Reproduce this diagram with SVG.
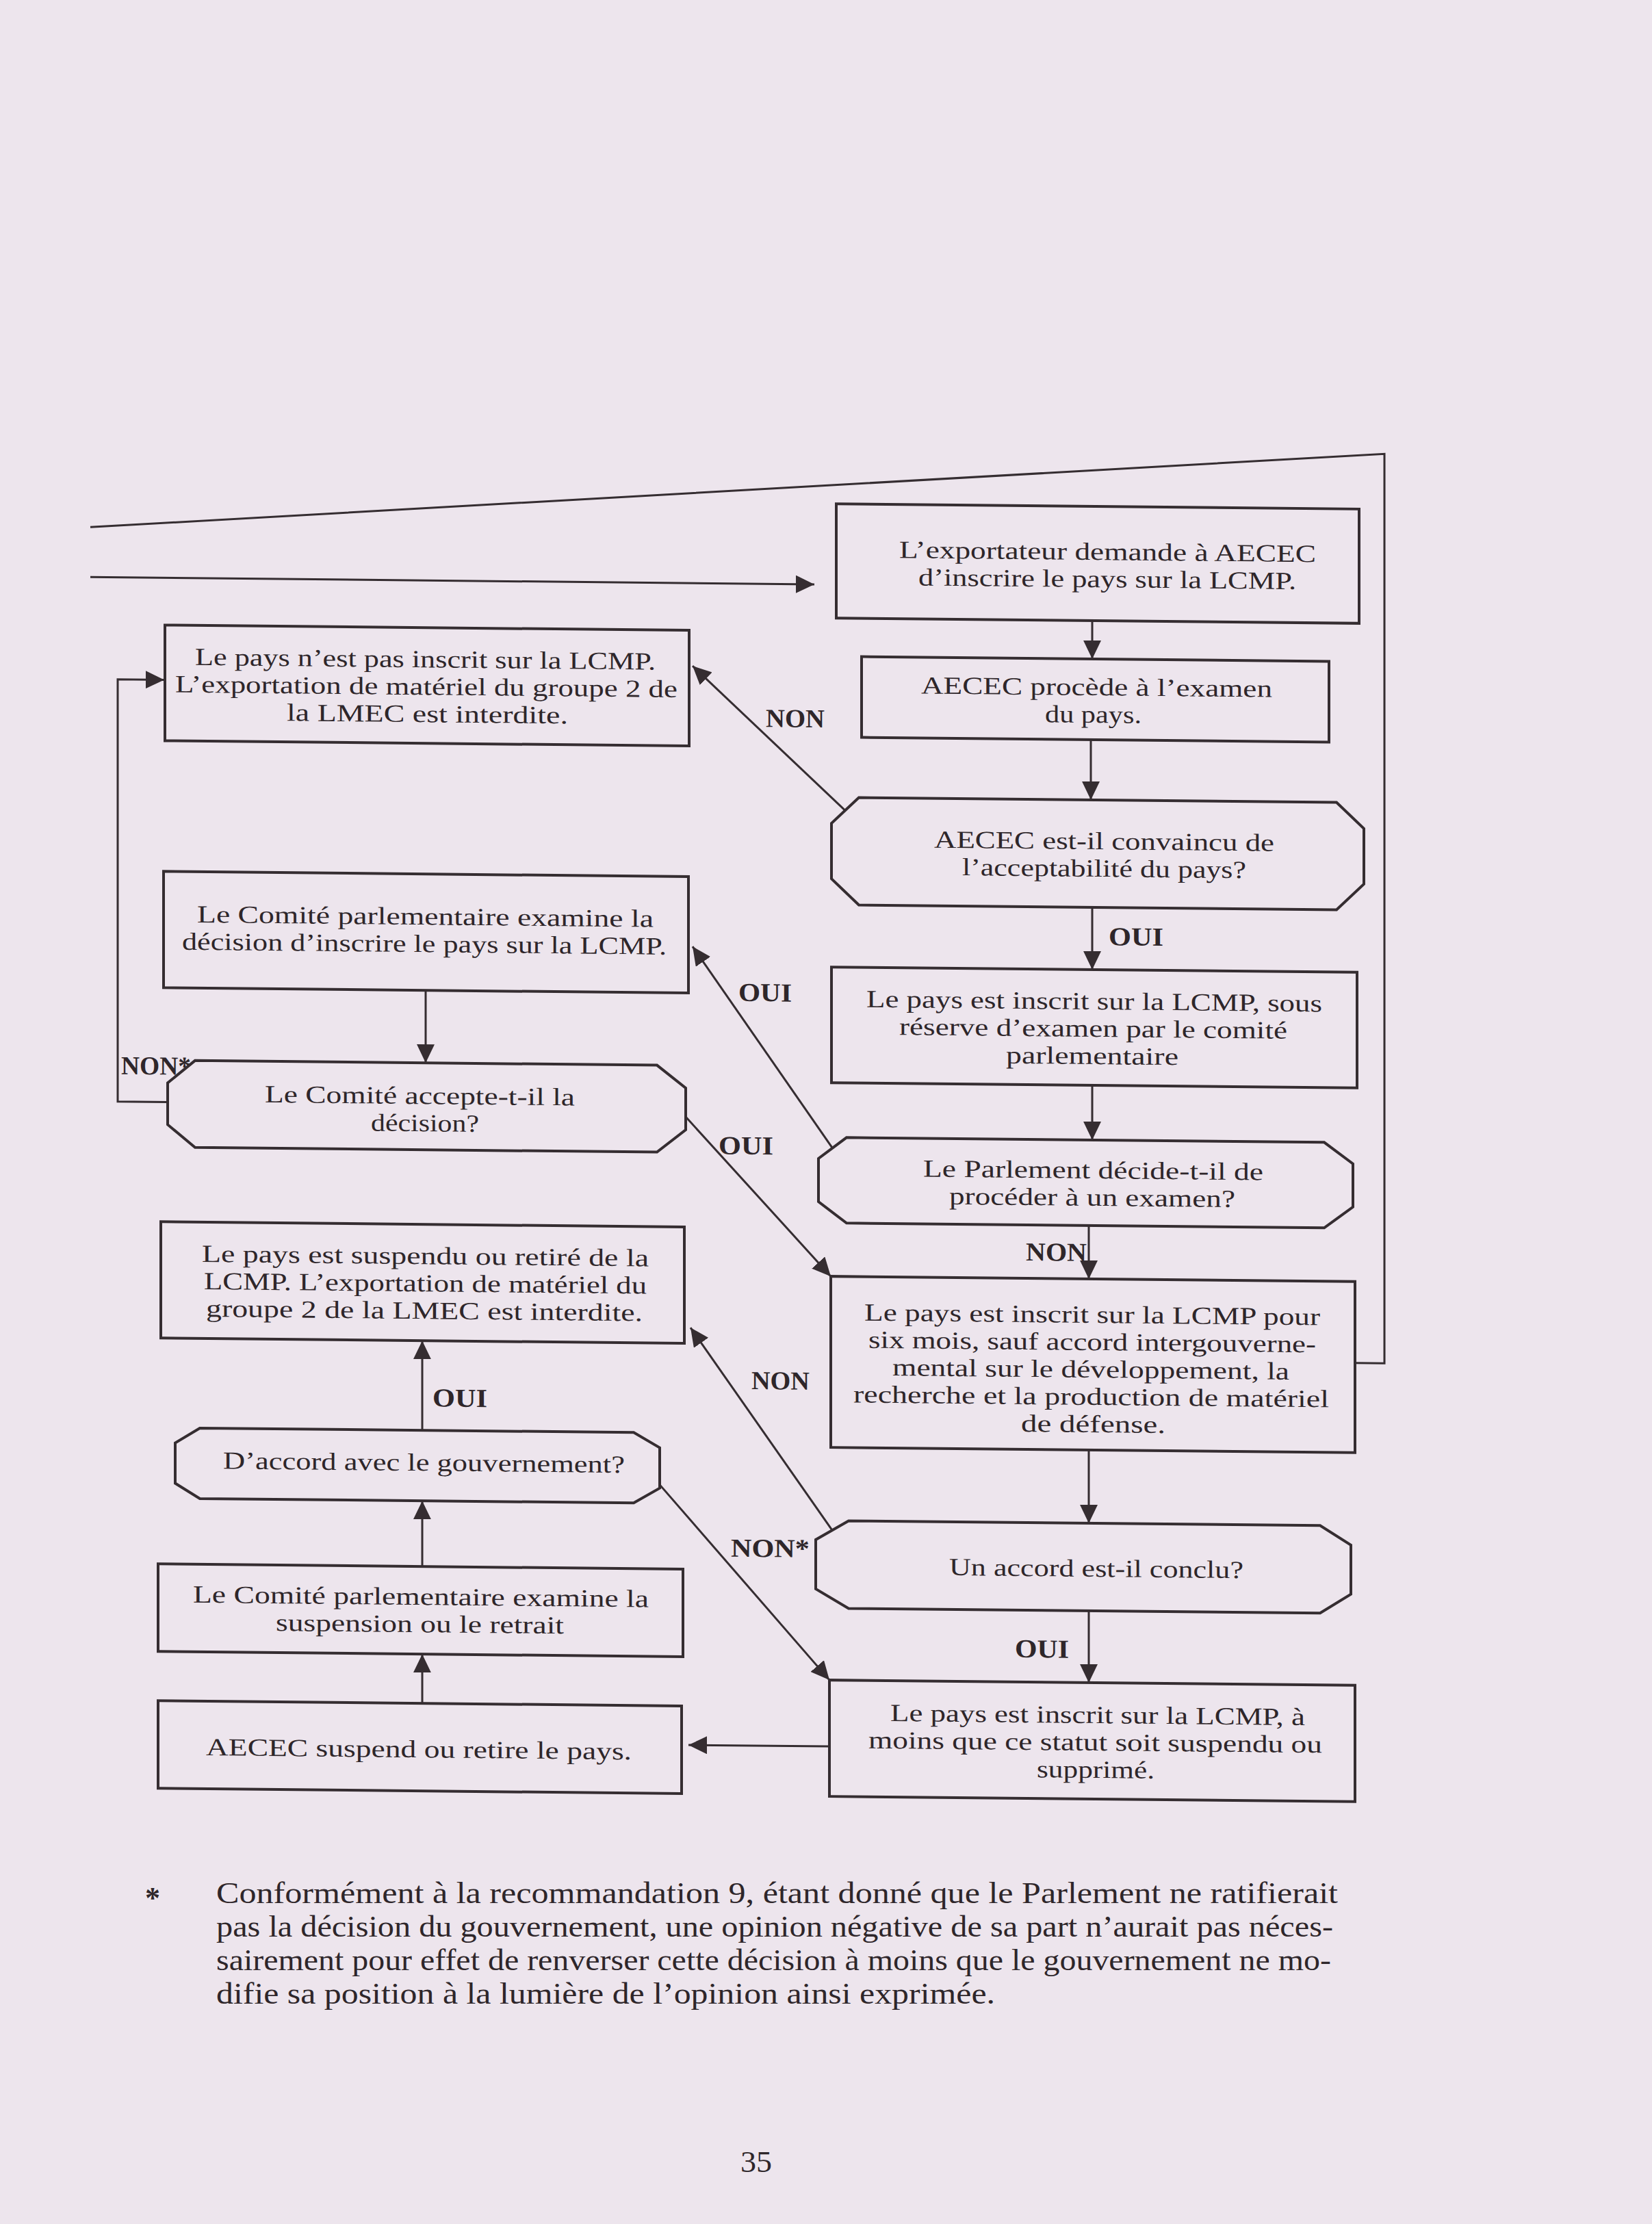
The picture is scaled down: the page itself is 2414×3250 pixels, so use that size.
<svg xmlns="http://www.w3.org/2000/svg" width="2414" height="3250" viewBox="0 0 2414 3250">
<style>
.bx{fill:none;stroke:#352d31;stroke-width:4;stroke-linejoin:miter}
.c{fill:none;stroke:#352d31;stroke-width:3}
.t{font-family:"Liberation Serif","Times New Roman",serif;font-size:36px;fill:#2e262a}
.lb{font-family:"Liberation Serif","Times New Roman",serif;font-size:38px;font-weight:bold;fill:#2e262a}
.fn{font-family:"Liberation Serif","Times New Roman",serif;font-size:44px;fill:#2e262a}
</style>
<defs>
<marker id="ah" viewBox="0 0 27 26" refX="27" refY="13" markerWidth="27" markerHeight="26" markerUnits="userSpaceOnUse" orient="auto">
<path d="M0,0 L27,13 L0,26 z" fill="#352d31"/>
</marker>
</defs>
<rect x="0" y="0" width="2414" height="3250" fill="#ede5ed"/>
<g transform="matrix(1,0.01,0,1,0,-12)">
<g id="connectors">
<path class="c" d="M1980,1984 H2023 V655 L132,781"/>
<path class="c" d="M132,854 H1190" marker-end="url(#ah)"/>
<path class="c" d="M1596,903 V959" marker-end="url(#ah)"/>
<path class="c" d="M1594,1077 V1165" marker-end="url(#ah)"/>
<path class="c" d="M1596,1322 V1413" marker-end="url(#ah)"/>
<path class="c" d="M1596,1582 V1662" marker-end="url(#ah)"/>
<path class="c" d="M1591,1787 V1865" marker-end="url(#ah)"/>
<path class="c" d="M1591,2115 V2222" marker-end="url(#ah)"/>
<path class="c" d="M1591,2350 V2455" marker-end="url(#ah)"/>
<path class="c" d="M1235,1184 L1012,975" marker-end="url(#ah)"/>
<path class="c" d="M1216,1677 L1012,1385" marker-end="url(#ah)"/>
<path class="c" d="M1002,1634 L1214,1865" marker-end="url(#ah)"/>
<path class="c" d="M1216,2236 L1009,1942" marker-end="url(#ah)"/>
<path class="c" d="M964,2172 L1212,2455" marker-end="url(#ah)"/>
<path class="c" d="M1212,2552 H1006" marker-end="url(#ah)"/>
<path class="c" d="M245,1620 H172 V1003 H240" marker-end="url(#ah)"/>
<path class="c" d="M622,1453 V1559" marker-end="url(#ah)"/>
<path class="c" d="M617,2096 V1965" marker-end="url(#ah)"/>
<path class="c" d="M617,2295 V2199" marker-end="url(#ah)"/>
<path class="c" d="M617,2495 V2423" marker-end="url(#ah)"/>
<text class="lb" x="1119" y="1063" textLength="86" lengthAdjust="spacingAndGlyphs">NON</text>
<text class="lb" x="1620" y="1377" textLength="80" lengthAdjust="spacingAndGlyphs">OUI</text>
<text class="lb" x="1079" y="1464" textLength="78" lengthAdjust="spacingAndGlyphs">OUI</text>
<text class="lb" x="1050" y="1688" textLength="80" lengthAdjust="spacingAndGlyphs">OUI</text>
<text class="lb" x="1499" y="1839" textLength="89" lengthAdjust="spacingAndGlyphs">NON</text>
<text class="lb" x="177" y="1580" textLength="102" lengthAdjust="spacingAndGlyphs">NON*</text>
<text class="lb" x="632" y="2061" textLength="80" lengthAdjust="spacingAndGlyphs">OUI</text>
<text class="lb" x="1098" y="2031" textLength="85" lengthAdjust="spacingAndGlyphs">NON</text>
<text class="lb" x="1068" y="2276" textLength="115" lengthAdjust="spacingAndGlyphs">NON*</text>
<text class="lb" x="1483" y="2419" textLength="79" lengthAdjust="spacingAndGlyphs">OUI</text>
</g>
<g id="n-exportateur">
<rect class="bx" x="1222" y="736" width="764" height="167"/>
<text class="t" x="1314" y="814" textLength="609" lengthAdjust="spacingAndGlyphs">L’exportateur demande à AECEC</text>
<text class="t" x="1342" y="854" textLength="552" lengthAdjust="spacingAndGlyphs">d’inscrire le pays sur la LCMP.</text>
</g>
<g id="n-pas-inscrit">
<rect class="bx" x="241" y="923" width="766" height="169"/>
<text class="t" x="285" y="981" textLength="673" lengthAdjust="spacingAndGlyphs">Le pays n’est pas inscrit sur la LCMP.</text>
<text class="t" x="256" y="1021" textLength="734" lengthAdjust="spacingAndGlyphs">L’exportation de matériel du groupe 2 de</text>
<text class="t" x="419" y="1061" textLength="411" lengthAdjust="spacingAndGlyphs">la LMEC est interdite.</text>
</g>
<g id="n-examen">
<rect class="bx" x="1259" y="959" width="683" height="118"/>
<text class="t" x="1346" y="1012" textLength="513" lengthAdjust="spacingAndGlyphs">AECEC procède à l’examen</text>
<text class="t" x="1527" y="1052" textLength="141" lengthAdjust="spacingAndGlyphs">du pays.</text>
</g>
<g id="n-convaincu">
<polygon class="bx" points="1255,1165 1953,1165 1993,1203 1993,1284 1953,1322 1255,1322 1215,1284 1215,1203"/>
<text class="t" x="1365" y="1237" textLength="497" lengthAdjust="spacingAndGlyphs">AECEC est-il convaincu de</text>
<text class="t" x="1406" y="1277" textLength="415" lengthAdjust="spacingAndGlyphs">l’acceptabilité du pays?</text>
</g>
<g id="n-comite-examine">
<rect class="bx" x="239" y="1283" width="767" height="170"/>
<text class="t" x="288" y="1357" textLength="667" lengthAdjust="spacingAndGlyphs">Le Comité parlementaire examine la</text>
<text class="t" x="266" y="1397" textLength="708" lengthAdjust="spacingAndGlyphs">décision d’inscrire le pays sur la LCMP.</text>
</g>
<g id="n-sous-reserve">
<rect class="bx" x="1215" y="1413" width="768" height="169"/>
<text class="t" x="1266" y="1471" textLength="666" lengthAdjust="spacingAndGlyphs">Le pays est inscrit sur la LCMP, sous</text>
<text class="t" x="1314" y="1511" textLength="567" lengthAdjust="spacingAndGlyphs">réserve d’examen par le comité</text>
<text class="t" x="1470" y="1551" textLength="252" lengthAdjust="spacingAndGlyphs">parlementaire</text>
</g>
<g id="n-comite-accepte">
<polygon class="bx" points="285,1559 960,1559 1002,1592 1002,1653 960,1686 285,1686 245,1653 245,1592"/>
<text class="t" x="387" y="1619" textLength="453" lengthAdjust="spacingAndGlyphs">Le Comité accepte-t-il la</text>
<text class="t" x="542" y="1659" textLength="158" lengthAdjust="spacingAndGlyphs">décision?</text>
</g>
<g id="n-parlement">
<polygon class="bx" points="1237,1662 1935,1662 1977,1693 1977,1756 1935,1787 1237,1787 1196,1756 1196,1693"/>
<text class="t" x="1349" y="1718" textLength="497" lengthAdjust="spacingAndGlyphs">Le Parlement décide-t-il de</text>
<text class="t" x="1387" y="1758" textLength="418" lengthAdjust="spacingAndGlyphs">procéder à un examen?</text>
</g>
<g id="n-suspendu">
<rect class="bx" x="235" y="1795" width="765" height="170"/>
<text class="t" x="295" y="1853" textLength="653" lengthAdjust="spacingAndGlyphs">Le pays est suspendu ou retiré de la</text>
<text class="t" x="298" y="1893" textLength="647" lengthAdjust="spacingAndGlyphs">LCMP. L’exportation de matériel du</text>
<text class="t" x="301" y="1933" textLength="638" lengthAdjust="spacingAndGlyphs">groupe 2 de la LMEC est interdite.</text>
</g>
<g id="n-six-mois">
<rect class="bx" x="1214" y="1865" width="766" height="250"/>
<text class="t" x="1263" y="1929" textLength="666" lengthAdjust="spacingAndGlyphs">Le pays est inscrit sur la LCMP pour</text>
<text class="t" x="1269" y="1969" textLength="654" lengthAdjust="spacingAndGlyphs">six mois, sauf accord intergouverne-</text>
<text class="t" x="1304" y="2009" textLength="580" lengthAdjust="spacingAndGlyphs">mental sur le développement, la</text>
<text class="t" x="1247" y="2049" textLength="695" lengthAdjust="spacingAndGlyphs">recherche et la production de matériel</text>
<text class="t" x="1492" y="2089" textLength="211" lengthAdjust="spacingAndGlyphs">de défense.</text>
</g>
<g id="n-daccord">
<polygon class="bx" points="292,2096 926,2096 964,2118 964,2177 926,2199 292,2199 256,2177 256,2118"/>
<text class="t" x="326" y="2155" textLength="587" lengthAdjust="spacingAndGlyphs">D’accord avec le gouvernement?</text>
</g>
<g id="n-accord-conclu">
<polygon class="bx" points="1240,2222 1929,2222 1974,2250 1974,2322 1929,2350 1240,2350 1192,2322 1192,2250"/>
<text class="t" x="1387" y="2300" textLength="430" lengthAdjust="spacingAndGlyphs">Un accord est-il conclu?</text>
</g>
<g id="n-comite-suspension">
<rect class="bx" x="231" y="2295" width="767" height="128"/>
<text class="t" x="282" y="2351" textLength="666" lengthAdjust="spacingAndGlyphs">Le Comité parlementaire examine la</text>
<text class="t" x="403" y="2391" textLength="421" lengthAdjust="spacingAndGlyphs">suspension ou le retrait</text>
</g>
<g id="n-aecec-suspend">
<rect class="bx" x="231" y="2495" width="765" height="128"/>
<text class="t" x="301" y="2574" textLength="622" lengthAdjust="spacingAndGlyphs">AECEC suspend ou retire le pays.</text>
</g>
<g id="n-a-moins">
<rect class="bx" x="1212" y="2455" width="768" height="170"/>
<text class="t" x="1301" y="2514" textLength="606" lengthAdjust="spacingAndGlyphs">Le pays est inscrit sur la LCMP, à</text>
<text class="t" x="1269" y="2554" textLength="663" lengthAdjust="spacingAndGlyphs">moins que ce statut soit suspendu ou</text>
<text class="t" x="1515" y="2594" textLength="172" lengthAdjust="spacingAndGlyphs">supprimé.</text>
</g>
</g>
<g id="footnote">
<text class="fn" x="212" y="2788" font-weight="bold">*</text>
<text class="fn" x="316" y="2781" textLength="1639" lengthAdjust="spacingAndGlyphs">Conformément à la recommandation 9, étant donné que le Parlement ne ratifierait</text>
<text class="fn" x="316" y="2830" textLength="1632" lengthAdjust="spacingAndGlyphs">pas la décision du gouvernement, une opinion négative de sa part n’aurait pas néces-</text>
<text class="fn" x="316" y="2879" textLength="1629" lengthAdjust="spacingAndGlyphs">sairement pour effet de renverser cette décision à moins que le gouvernement ne mo-</text>
<text class="fn" x="316" y="2928" textLength="1138" lengthAdjust="spacingAndGlyphs">difie sa position à la lumière de l’opinion ainsi exprimée.</text>
</g>
<text class="fn" x="1082" y="3174" font-size="52" textLength="46" lengthAdjust="spacingAndGlyphs">35</text>
</svg>
